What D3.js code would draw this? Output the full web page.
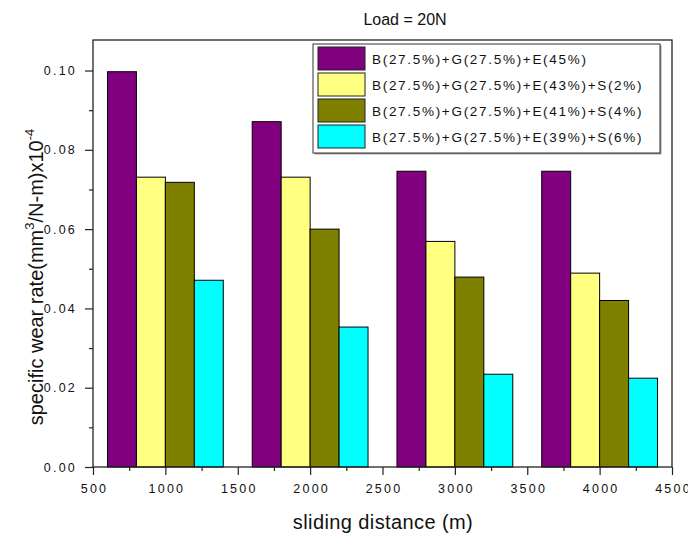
<!DOCTYPE html>
<html>
<head>
<meta charset="utf-8">
<script src="https://cdn.jsdelivr.net/npm/d3@7"></script>
<style>
  body { margin: 0; background: #fff; }
  text { font-family: Arial, "Liberation Sans", sans-serif; fill: #111; }
</style>
</head>
<body>
<div id="chart_div"></div>
<script>
var distances = [1000, 2000, 3000, 4000];
var series_names = [
    'B(27.5%)+G(27.5%)+E(45%)',
    'B(27.5%)+G(27.5%)+E(43%)+S(2%)',
    'B(27.5%)+G(27.5%)+E(41%)+S(4%)',
    'B(27.5%)+G(27.5%)+E(39%)+S(6%)'
];
var series_colors = ['#800080', '#ffff80', '#808000', '#00ffff'];
var wear_s0 = [0.0997, 0.0871, 0.0746, 0.0746];
var wear_s2 = [0.0731, 0.0731, 0.0569, 0.0489];
var wear_s4 = [0.0718, 0.0600, 0.0479, 0.0420];
var wear_s6 = [0.0471, 0.0353, 0.0234, 0.0224];
var x_ticks = [500, 1000, 1500, 2000, 2500, 3000, 3500, 4000, 4500];
var y_ticks = [0.00, 0.02, 0.04, 0.06, 0.08, 0.10];

function wear_chart() {
    var width = 688, height = 535;
    var margin = {top: 40, right: 16, bottom: 68, left: 93};
    var plot_w = width - margin.left - margin.right;
    var plot_h = height - margin.top - margin.bottom;
    var series = [wear_s0, wear_s2, wear_s4, wear_s6];
    var bar_w = 200; // in data units (m)

    var svg = d3.select('#chart_div')
        .append('svg')
        .attr('width', width)
        .attr('height', height);

    var g = svg.append('g')
        .attr('transform', `translate(${margin.left}, ${margin.top})`);

    var x = d3.scaleLinear().domain([500, 4500]).range([0, plot_w]);
    var y = d3.scaleLinear().domain([0, 0.1077]).range([plot_h, 0]);

    // bars
    series.forEach(function(vals, si) {
        g.selectAll('.bar' + si)
            .data(vals)
            .enter()
            .append('rect')
            .attr('x', (d, i) => x(distances[i] - 400 + si * bar_w))
            .attr('y', d => y(d))
            .attr('width', x(bar_w) - x(0))
            .attr('height', d => y(0) - y(d))
            .attr('fill', series_colors[si])
            .attr('stroke', '#000')
            .attr('stroke-width', 1);
    });

    // frame
    g.append('rect')
        .attr('x', 0).attr('y', 0)
        .attr('width', plot_w).attr('height', plot_h)
        .attr('fill', 'none')
        .attr('stroke', '#222')
        .attr('stroke-width', 1.3);

    // x axis
    var x_axis = g.append('g')
        .attr('transform', `translate(0, ${plot_h})`)
        .call(d3.axisBottom(x).tickValues(x_ticks).tickSize(8).tickFormat(d3.format('d')));
    g.append('g')
        .attr('transform', `translate(0, ${plot_h})`)
        .call(d3.axisBottom(x).tickValues(d3.range(750, 4500, 500)).tickSize(4).tickFormat(''));

    // y axis
    var y_axis = g.append('g')
        .call(d3.axisLeft(y).tickValues(y_ticks).tickSize(8).tickFormat(d3.format('.2f')));
    g.append('g')
        .call(d3.axisLeft(y).tickValues([0.01, 0.03, 0.05, 0.07, 0.09]).tickSize(4).tickFormat(''));

    g.selectAll('.domain').remove();
    g.selectAll('.tick line').attr('stroke', '#222').attr('stroke-width', 1.2);
    g.selectAll('.tick text')
        .style('font-size', '12.5px')
        .style('letter-spacing', '2.2px')
        .style('fill', '#111');
    x_axis.selectAll('.tick text').attr('dy', '1.2em').attr('dx', 1);
    y_axis.selectAll('.tick text').attr('x', -16);

    // axis titles
    svg.append('text')
        .attr('x', 383)
        .attr('y', 529)
        .style('text-anchor', 'middle')
        .style('font-size', '20px')
        .style('letter-spacing', '0.4px')
        .text('sliding distance (m)');

    var y_title = svg.append('text')
        .attr('transform', 'translate(43, 277) rotate(-90)')
        .style('text-anchor', 'middle')
        .style('font-size', '20px');
    y_title.append('tspan').text('specific wear rate(mm');
    y_title.append('tspan').attr('dy', -9).style('font-size', '13px').text('3');
    y_title.append('tspan').attr('dy', 9).text('/N-m)x10');
    y_title.append('tspan').attr('dy', -9).style('font-size', '13px').text('-4');

    // title
    svg.append('text')
        .attr('x', 405)
        .attr('y', 25)
        .style('text-anchor', 'middle')
        .style('font-size', '16px')
        .text('Load = 20N');

    // legend
    var legend = svg.append('g').attr('transform', 'translate(313, 44)');
    legend.append('rect')
        .attr('x', 1.5).attr('y', 1.5)
        .attr('width', 347).attr('height', 109)
        .attr('fill', '#999');
    legend.append('rect')
        .attr('width', 347).attr('height', 109)
        .attr('fill', '#fff')
        .attr('stroke', '#333')
        .attr('stroke-width', 1);
    var rows = legend.selectAll('.row')
        .data(series_names)
        .enter()
        .append('g')
        .attr('transform', (d, i) => `translate(5, ${3 + i * 26})`);
    rows.append('rect')
        .attr('width', 47).attr('height', 23)
        .attr('fill', (d, i) => series_colors[i])
        .attr('stroke', '#222')
        .attr('stroke-width', 1);
    rows.append('text')
        .attr('x', 54)
        .attr('y', 17)
        .style('font-size', '13.5px')
        .style('letter-spacing', '1.7px')
        .text(d => d);
}

wear_chart();
</script>
</body>
</html>
